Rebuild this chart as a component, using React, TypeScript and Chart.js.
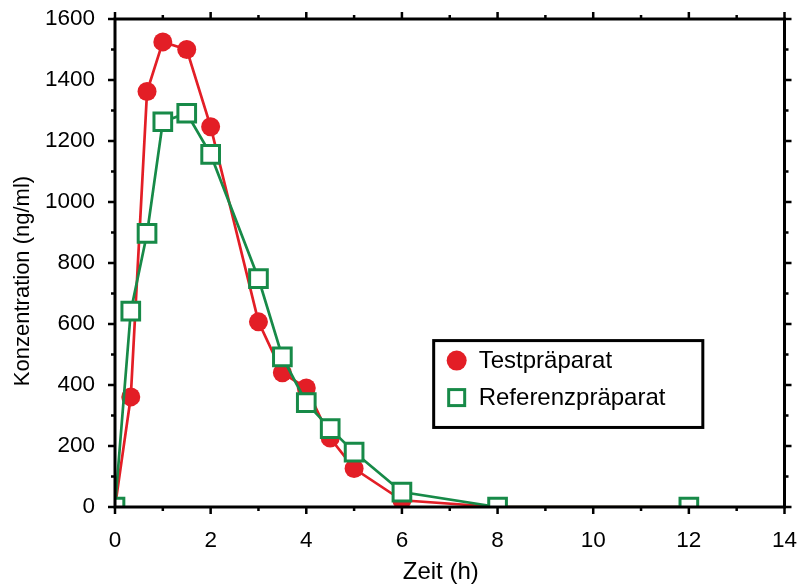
import React, { useEffect, useRef } from "react";
import { Chart, registerables } from "chart.js";

Chart.register(...registerables);

const times = [0, 0.33, 0.67, 1, 1.5, 2, 3, 3.5, 4, 4.5, 5, 6, 8, 12];
const testValues = [0, 361, 1362, 1525, 1500, 1247, 607, 440, 390, 226, 126, 22, 0, 0];
const refValues = [0, 642, 897, 1263, 1291, 1156, 749, 492, 342, 257, 180, 49, 0, 0];
const seriesLabels = ["Testpräparat", "Referenzpräparat"];
const xTitle = "Zeit (h)";
const yTitle = "Konzentration (ng/ml)";

const RED = "#e31e26";
const GREEN = "#178a48";
const FONT = "'Liberation Sans', Arial, sans-serif";

const framePlugin = {
  id: "frameTicks",
  afterDatasetsDraw(chart: any) {
    const { ctx, chartArea: a, scales } = chart;
    const xs = scales.x;
    const ys = scales.y;
    ctx.save();
    ctx.strokeStyle = "#000";
    ctx.lineWidth = 2.5;
    ctx.lineCap = "butt";
    for (let v = 0; v <= 14; v += 1) {
      const px = xs.getPixelForValue(v);
      const len = v % 2 === 0 ? 7 : 4;
      ctx.beginPath();
      ctx.moveTo(px, a.bottom);
      ctx.lineTo(px, a.bottom + len);
      ctx.moveTo(px, a.top);
      ctx.lineTo(px, a.top - len);
      ctx.stroke();
    }
    for (let v = 0; v <= 1600; v += 100) {
      const py = ys.getPixelForValue(v);
      const len = v % 200 === 0 ? 7 : 4;
      ctx.beginPath();
      ctx.moveTo(a.left, py);
      ctx.lineTo(a.left - len, py);
      ctx.moveTo(a.right, py);
      ctx.lineTo(a.right + len, py);
      ctx.stroke();
    }
    ctx.lineWidth = 3;
    ctx.strokeRect(a.left, a.top, a.right - a.left, a.bottom - a.top);

    // axis titles
    ctx.fillStyle = "#000";
    ctx.textAlign = "center";
    ctx.textBaseline = "middle";
    ctx.font = `24px ${FONT}`;
    ctx.fillText(xTitle, (a.left + a.right) / 2 - 9, 572);
    ctx.font = `22px ${FONT}`;
    ctx.save();
    ctx.translate(23, (a.top + a.bottom) / 2 + 18);
    ctx.rotate(-Math.PI / 2);
    ctx.fillText(yTitle, 0, 0);
    ctx.restore();

    // legend box
    const w = a.right - a.left;
    const h = a.bottom - a.top;
    const bx = a.left + 0.476 * w;
    const by = a.top + 0.659 * h;
    const bw = 0.402 * w;
    const bh = 0.178 * h;
    ctx.fillStyle = "#fff";
    ctx.fillRect(bx, by, bw, bh);
    ctx.lineWidth = 3;
    ctx.strokeStyle = "#000";
    ctx.strokeRect(bx, by, bw, bh);
    const mx = bx + 23;
    const r1 = by + 20;
    const r2 = by + 57;
    ctx.fillStyle = RED;
    ctx.beginPath();
    ctx.arc(mx, r1, 10, 0, Math.PI * 2);
    ctx.fill();
    ctx.fillStyle = "#fff";
    ctx.fillRect(mx - 8, r2 - 8, 16, 16);
    ctx.strokeStyle = GREEN;
    ctx.lineWidth = 3;
    ctx.strokeRect(mx - 8, r2 - 8, 16, 16);
    ctx.fillStyle = "#000";
    ctx.textAlign = "left";
    ctx.textBaseline = "middle";
    ctx.font = `24px ${FONT}`;
    ctx.fillText(seriesLabels[0], bx + 45, r1 + 1);
    ctx.fillText(seriesLabels[1], bx + 45, r2 + 1);
    ctx.restore();
  },
};

export default function App() {
  const ref = useRef<HTMLCanvasElement>(null);
  useEffect(() => {
    if (!ref.current) return;
    const chart = new Chart(ref.current, {
      type: "line",
      data: {
        datasets: [
          {
            label: seriesLabels[0],
            data: times.map((t, i) => ({ x: t, y: testValues[i] })),
            borderColor: RED,
            backgroundColor: RED,
            borderWidth: 2.7,
            pointRadius: 9.5,
            pointBorderWidth: 0,
            pointBackgroundColor: RED,
            pointStyle: "circle",
            clip: 0,
            order: 2,
          },
          {
            label: seriesLabels[1],
            data: times.map((t, i) => ({ x: t, y: refValues[i] })),
            borderColor: GREEN,
            backgroundColor: "#fff",
            borderWidth: 2.7,
            pointRadius: 12.5,
            pointBorderWidth: 3,
            pointBorderColor: GREEN,
            pointBackgroundColor: "#fff",
            pointStyle: "rect",
            clip: 0,
            order: 1,
          },
        ],
      },
      options: {
        responsive: false,
        animation: false,
        layout: { padding: { top: 19, right: 13, left: 0, bottom: 0 } },
        plugins: { legend: { display: false }, tooltip: { enabled: false } },
        scales: {
          x: {
            type: "linear",
            min: 0,
            max: 14,
            grid: { display: false, drawTicks: false },
            border: { display: false },
            ticks: {
              stepSize: 2,
              color: "#000",
              font: { family: FONT, size: 22.5 },
              padding: 20,
              maxRotation: 0,
              callback: (v: any) => String(v),
            },
            afterFit: (s: any) => {
              s.height = 80;
              s.paddingLeft = 0;
              s.paddingRight = 0;
            },
          },
          y: {
            min: 0,
            max: 1600,
            grid: { display: false, drawTicks: false },
            border: { display: false },
            ticks: {
              stepSize: 200,
              color: "#000",
              font: { family: FONT, size: 22.5 },
              padding: 20,
              callback: (v: any) => String(v),
            },
            afterFit: (s: any) => {
              s.width = 115;
              s.paddingTop = 0;
              s.paddingBottom = 0;
            },
          },
        },
      },
      plugins: [framePlugin],
    });
    return () => chart.destroy();
  }, []);
  return (
    <div style={{ position: "absolute", left: 0, top: 0, width: 800, height: 587, background: "#fff" }}>
      <canvas ref={ref} width={800} height={587} style={{ width: 800, height: 587 }} />
    </div>
  );
}
